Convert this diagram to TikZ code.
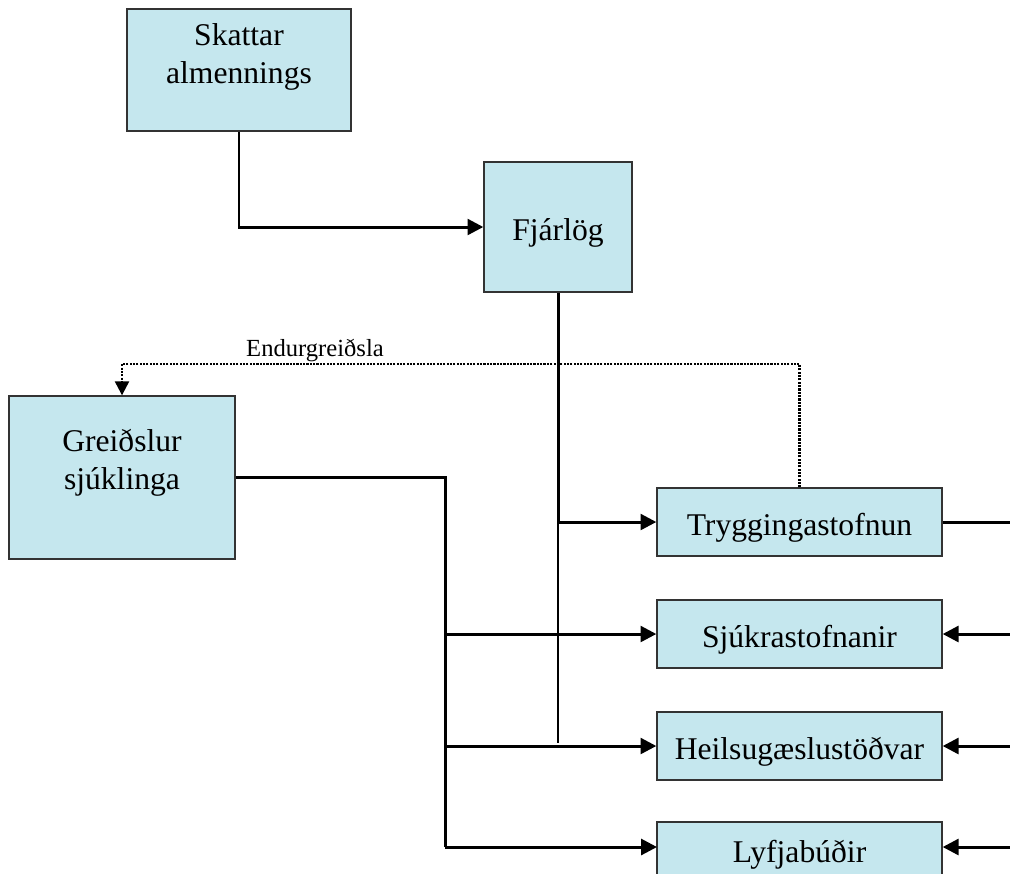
\documentclass[tikz,border=0pt]{standalone}
\usepackage{fontspec}
\setmainfont{Liberation Serif}
\usepackage{xcolor}
\usetikzlibrary{arrows.meta,positioning,calc}
\definecolor{boxblue}{RGB}{197,231,238}

\begin{document}
\begin{tikzpicture}[x=0.02cm,y=-0.02cm,
	box/.style={draw=black!80,fill=boxblue,line width=0.8pt,inner sep=0pt,
		font=\fontsize{18}{21.5}\selectfont,text height=19pt,text depth=4pt},
	txt/.style={font=\fontsize{18}{21.5}\selectfont,align=center,inner sep=0pt},
	conn/.style={line width=1.7pt},
	flow/.style={line width=1.7pt,-{Triangle[length=9pt,width=9pt]}},
	refund/.style={line width=1.3pt,dash pattern=on 1.2pt off 0.7pt,-{Triangle[length=8pt,width=8pt]}}]
	\useasboundingbox (0,0) rectangle (1010,873);
	% boxes
	\node[box,minimum width=4.48cm,minimum height=2.44cm] (skattar) at (239,70) {};
	\node[txt] (skattar-t) at (239,57) {Skattar\\almennings};
	\node[box,minimum width=2.96cm,minimum height=2.6cm] (fjarlog) at (558,227) {Fjárlög};
	\node[box,minimum width=4.52cm,minimum height=3.26cm] (greid) at (122,477.5) {};
	\node[txt] (greid-t) at (122,463) {Greiðslur\\sjúklinga};
	\node[box,minimum width=5.7cm,minimum height=1.36cm] (trygg) at (799.5,522) {Tryggingastofnun};
	\node[box,minimum width=5.7cm,minimum height=1.36cm] (sjukra) at (799.5,634) {Sjúkrastofnanir};
	\node[box,minimum width=5.7cm,minimum height=1.36cm] (heilsu) at (799.5,746) {Heilsugæslustöðvar};
	\node[box,minimum width=5.7cm,minimum height=1.08cm] (lyf) at (799.5,849) {Lyfjabúðir};
	% helper points
	\coordinate (fjend) at (558,743);
	\coordinate (endtop) at (799.5,364);
	\coordinate (gsplit) at (445,477.5);
	\coordinate (lyfin) at (657,847);
	\coordinate (r1) at (1010,522);
	\coordinate (r2) at (1010,634);
	\coordinate (r3) at (1010,746);
	\coordinate (r4) at (1010,847);
	% connectors
	\draw[flow] (skattar.south) |- (fjarlog.west);
	\draw[flow] (fjarlog.south) |- (trygg.west);
	\draw[line width=0.6pt] (fjarlog.south |- trygg.west) -- (fjend);
	\draw[refund] (trygg.north) -- (trygg.north |- endtop) -| (greid.north);
	\node[font=\fontsize{14}{16}\selectfont] (endurg) at (315,350) {Endurgreiðsla};
	\draw[conn] (greid.east) -- (gsplit) -- (gsplit |- lyfin);
	\draw[flow] (gsplit |- sjukra.west) -- (sjukra.west);
	\draw[flow] (gsplit |- heilsu.west) -- (heilsu.west);
	\draw[flow] (gsplit |- lyfin) -- (lyfin);
	\draw[conn] (trygg.east) -- (r1);
	\draw[flow] (r2) -- (sjukra.east);
	\draw[flow] (r3) -- (heilsu.east);
	\draw[flow] (r4) -- (lyfin -| lyf.east);
\end{tikzpicture}
\end{document}
